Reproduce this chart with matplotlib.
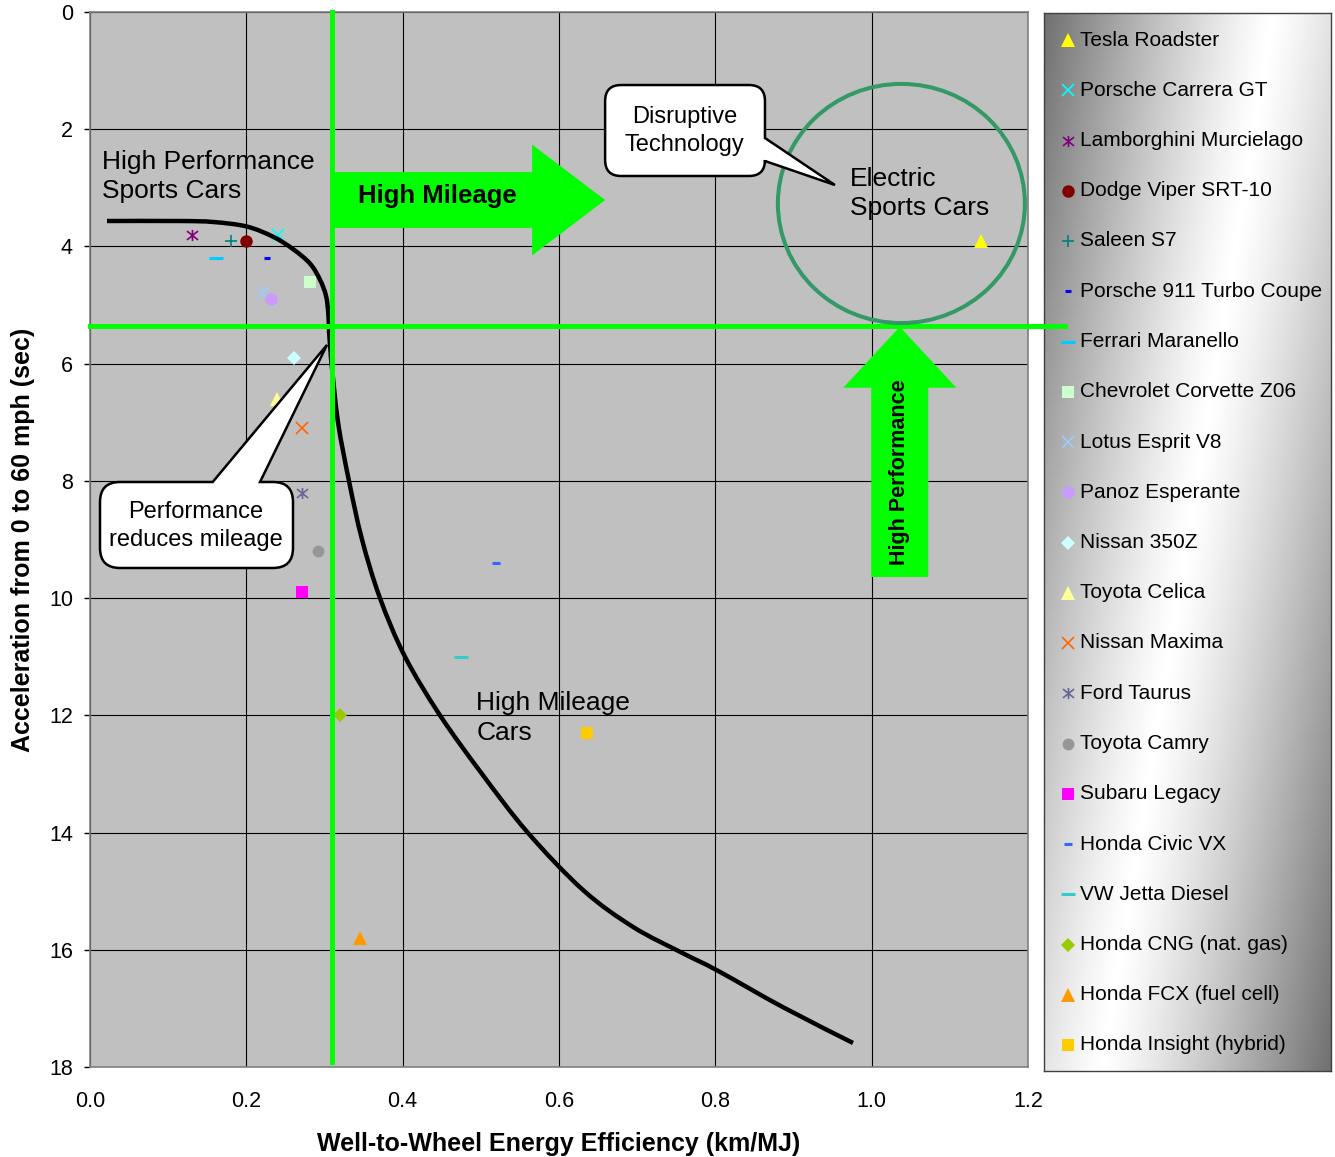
import numpy as np
import matplotlib
matplotlib.use("Agg")
import matplotlib.pyplot as plt
from matplotlib.path import Path
from matplotlib.patches import PathPatch, FancyArrow, Ellipse
from matplotlib.transforms import IdentityTransform

plt.rcParams['font.family'] = ['Liberation Sans', 'DejaVu Sans']

# Data
cars = ["Tesla Roadster", "Porsche Carrera GT", "Lamborghini Murcielago",
        "Dodge Viper SRT-10", "Saleen S7", "Porsche 911 Turbo Coupe",
        "Ferrari Maranello", "Chevrolet Corvette Z06", "Lotus Esprit V8",
        "Panoz Esperante", "Nissan 350Z", "Toyota Celica", "Nissan Maxima",
        "Ford Taurus", "Toyota Camry", "Subaru Legacy", "Honda Civic VX",
        "VW Jetta Diesel", "Honda CNG (nat. gas)", "Honda FCX (fuel cell)",
        "Honda Insight (hybrid)"]
efficiency = [1.14, 0.24, 0.13, 0.20, 0.18, 0.226, 0.161, 0.281, 0.221, 0.232,
              0.261, 0.239, 0.271, 0.271, 0.292, 0.271, 0.519, 0.475, 0.32,
              0.345, 0.636]
accel = [3.9, 3.8, 3.8, 3.9, 3.9, 4.2, 4.2, 4.6, 4.8, 4.9, 5.9, 6.6, 7.1, 8.2,
         9.2, 9.9, 9.4, 11.0, 12.0, 15.8, 12.3]

# trade-off curve (hand traced)
curve_x = [0.0217, 0.1151, 0.1577, 0.2005, 0.2345, 0.2601, 0.2815, 0.2942,
           0.3019, 0.3049, 0.3058, 0.3079, 0.3090, 0.3173, 0.3313, 0.3480,
           0.3710, 0.4030, 0.4478, 0.5015, 0.5600, 0.6307, 0.6947, 0.7586,
           0.8021, 0.8866, 0.9761]
curve_y = [3.566, 3.566, 3.583, 3.66, 3.836, 4.049, 4.293, 4.566, 4.840,
           5.146, 5.450, 5.816, 6.0, 7.0, 8.0, 9.0, 10.0, 11.0, 12.0, 13.0,
           14.0, 14.98, 15.61, 16.06, 16.35, 16.98, 17.59]

xticks = [0.0, 0.2, 0.4, 0.6, 0.8, 1.0, 1.2]
yticks = [0, 2, 4, 6, 8, 10, 12, 14, 16, 18]

# marker styles
STAR = Path([(-1, -0.8), (1, 0.8), (-1, 0.8), (1, -0.8), (0, -1), (0, 1)],
            [Path.MOVETO, Path.LINETO, Path.MOVETO, Path.LINETO, Path.MOVETO, Path.LINETO])
colors = ['#FFFF00', '#00FFFF', '#800080', '#800000', '#008080', '#0000FF',
          '#00CCFF', '#CCFFCC', '#99CCFF', '#CC99FF', '#CCFFFF', '#FFFF99',
          '#FF6600', '#666699', '#969696', '#FF00FF', '#3366FF', '#33CCCC',
          '#99CC00', '#FF9900', '#FFCC00']
markers = ['^', 'x', STAR, 'o', '+', '_', '_', 's', 'x', 'o', 'D', '^', 'x',
           STAR, 'o', 's', '_', '_', 'D', '^', 's']
msizes = [9.5, 8.5, 8, 9, 9, 5, 10, 8.5, 8.5, 9, 7, 9.5, 8.5, 8, 8.5, 8.5, 5.5,
          10, 7, 9.5, 8.5]


def style(i):
    m = markers[i]
    if isinstance(m, str) and m in '^osD':
        return dict(marker=m, markersize=msizes[i], markerfacecolor=colors[i],
                    markeredgewidth=0, linestyle='none')
    mew = 2.2 if m == '_' else 1.2
    return dict(marker=m, markersize=msizes[i], markerfacecolor='none',
                markeredgecolor=colors[i], markeredgewidth=mew, linestyle='none')


def smooth_path(xs, ys):
    # Excel-style smoothed line: Catmull-Rom segments as cubic Beziers
    p = np.column_stack([xs, ys])
    ext = np.vstack([p[0], p, p[-1]])
    verts, codes = [tuple(p[0])], [Path.MOVETO]
    for k in range(len(p) - 1):
        p0, p1, p2, p3 = ext[k], ext[k + 1], ext[k + 2], ext[k + 3]
        verts += [tuple(p1 + (p2 - p0) / 6), tuple(p2 - (p3 - p1) / 6), tuple(p2)]
        codes += [Path.CURVE4] * 3
    return Path(verts, codes)


fig = plt.figure(figsize=(13.35, 11.57), dpi=100)
ax = fig.add_axes([90 / 1335, 1 - 1067 / 1157, 938 / 1335, 1055 / 1157])
ax.set_zorder(2)
ax.set_facecolor('#C0C0C0')
ax.set_xlim(0, 1.2)
ax.set_ylim(18, 0)
ax.set_xticks(xticks)
ax.set_xticklabels([f"{t:.1f}" for t in xticks])
ax.set_yticks(yticks)
ax.grid(True, color='black', lw=0.8)
ax.set_axisbelow(True)
for s in ax.spines.values():
    s.set_color('#808080')
    s.set_linewidth(1.2)
ax.tick_params(axis='x', length=0, pad=17, labelsize=15.5)
ax.tick_params(axis='y', length=4.3, width=1, direction='out', pad=8, labelsize=15.5)
ax.set_xlabel("Well-to-Wheel Energy Efficiency (km/MJ)", fontsize=18,
              fontweight='bold', labelpad=15)
ax.set_ylabel("Acceleration from 0 to 60 mph (sec)", fontsize=18,
              fontweight='bold', labelpad=10)

for i in range(len(cars)):
    ax.plot(efficiency[i], accel[i], zorder=3, **style(i))

ax.add_patch(PathPatch(smooth_path(curve_x, curve_y), fill=False,
                       edgecolor='black', lw=3.2, capstyle='butt',
                       joinstyle='round', zorder=4))

# green quadrant lines
ax.plot([0.31, 0.31], [0, 17.92], color='#00FF00', lw=3.6, zorder=5, clip_on=False)
ax.plot([0, 1.247], [5.36, 5.36], color='#00FF00', lw=3.6, zorder=5, clip_on=False)

# arrows
ax.add_patch(FancyArrow(0.31, 3.208, 0.349, 0, width=0.955, head_width=1.894,
                        head_length=0.0934, length_includes_head=True,
                        color='#00FF00', lw=0, zorder=5))
ax.add_patch(FancyArrow(1.036, 9.64, 0, -4.27, width=0.0729, head_width=0.1446,
                        head_length=1.04, length_includes_head=True,
                        color='#00FF00', lw=0, zorder=5))
ax.text(0.444, 3.14, "High Mileage", fontsize=18.5, fontweight='bold',
        ha='center', va='center', zorder=6)
ax.text(1.036, 7.85, "High Performance", fontsize=15.5, fontweight='bold',
        rotation=90, ha='center', va='center', zorder=6)

ax.add_patch(Ellipse((1.038, 3.267), 0.316, 4.08, fill=False,
                     edgecolor='#339966', lw=2.9, zorder=5))

ax.text(0.0154, 2.807, "High Performance\nSports Cars", fontsize=19,
        ha='left', va='center', linespacing=1.3, zorder=6)
ax.text(0.972, 3.097, "Electric\nSports Cars", fontsize=19,
        ha='left', va='center', linespacing=1.3, zorder=6)
ax.text(0.494, 12.04, "High Mileage\nCars", fontsize=19,
        ha='left', va='center', linespacing=1.3, zorder=6)


def callout(box, tip, side, base, r):
    (x0, y0), (x1, y1) = ax.transData.transform([(box[0], box[1]), (box[2], box[3])])
    L, R = min(x0, x1), max(x0, x1)
    B, T = min(y0, y1), max(y0, y1)
    tx, ty = ax.transData.transform(tip)
    verts = [(L + r, B), (R - r, B), (R, B), (R, B + r)]
    codes = [Path.MOVETO, Path.LINETO, Path.CURVE3, Path.CURVE3]
    if side == 'right':
        ya, yb = sorted(ax.transData.transform([(0, base[0]), (0, base[1])])[:, 1])
        verts += [(R, ya), (tx, ty), (R, yb)]
        codes += [Path.LINETO] * 3
    verts += [(R, T - r), (R, T), (R - r, T)]
    codes += [Path.LINETO, Path.CURVE3, Path.CURVE3]
    if side == 'top':
        xa, xb = sorted(ax.transData.transform([(base[0], 0), (base[1], 0)])[:, 0])
        verts += [(xb, T), (tx, ty), (xa, T)]
        codes += [Path.LINETO] * 3
    verts += [(L + r, T), (L, T), (L, T - r), (L, B + r), (L, B), (L + r, B), (L + r, B)]
    codes += [Path.LINETO, Path.CURVE3, Path.CURVE3, Path.LINETO, Path.CURVE3,
              Path.CURVE3, Path.CLOSEPOLY]
    ax.add_patch(PathPatch(Path(verts, codes), facecolor='white', edgecolor='black',
                           lw=1.8, transform=IdentityTransform(), zorder=7,
                           clip_on=False))


callout((0.659, 1.246, 0.8635, 2.798), (0.953, 2.952), 'right', (2.150, 2.542), 16)
ax.text(0.761, 2.03, "Disruptive\nTechnology", fontsize=17,
        ha='center', va='center', linespacing=1.4, zorder=8)
callout((0.0128, 8.019, 0.2597, 9.486), (0.3032, 5.68), 'top', (0.157, 0.2175), 20)
ax.text(0.1356, 8.77, "Performance\nreduces mileage", fontsize=17,
        ha='center', va='center', linespacing=1.4, zorder=8)

# legend panel with diagonal gradient
lax = fig.add_axes([1044 / 1335, 1 - 1071 / 1157, 287 / 1335, 1058 / 1157])
lax.set_zorder(1)
gx, gy = np.meshgrid(np.linspace(0, 1, 200), np.linspace(0, 1, 600))
d = np.abs(gx + 0.6 * gy - 0.8) / 0.8
grad = 1 - 0.56 * np.clip(d, 0, 1) ** 1.2
lax.imshow(grad, cmap='gray', vmin=0, vmax=1, extent=(0, 287, 1058, 0),
           aspect='auto', interpolation='bilinear')
lax.set_xlim(0, 287)
lax.set_ylim(1058, 0)
lax.set_xticks([])
lax.set_yticks([])
for s in lax.spines.values():
    s.set_color('#404040')
    s.set_linewidth(1)
for i, name in enumerate(cars):
    yy = 27 + i * 50.25
    lax.plot(24, yy, **style(i))
    lax.text(36, yy, name, fontsize=15, ha='left', va='center')

fig.savefig("out.png", dpi=100)
